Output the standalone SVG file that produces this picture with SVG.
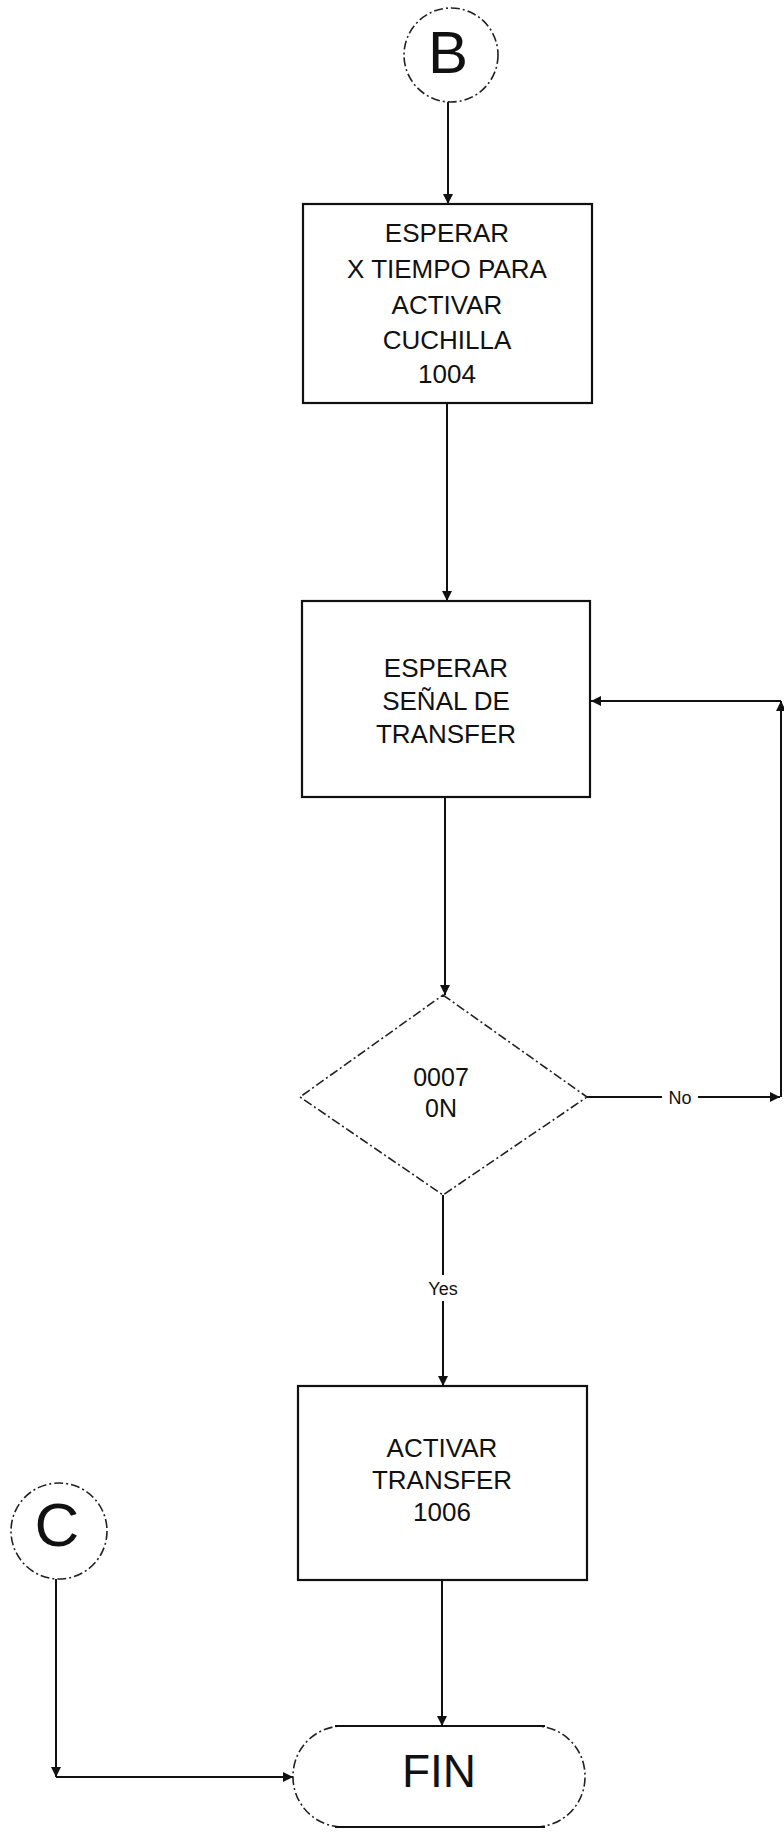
<svg xmlns="http://www.w3.org/2000/svg" width="784" height="1832" viewBox="0 0 784 1832">
<style>
.box{fill:#fff;stroke:#111;stroke-width:2.2}
.dash{fill:#fff;stroke:#222;stroke-width:1.6;stroke-dasharray:9 3 2 3}
.t{font-family:"Liberation Sans",Arial,sans-serif;fill:#111;text-anchor:middle}
.lbl{font-family:"Liberation Sans",Arial,sans-serif;fill:#111;text-anchor:middle;font-size:18px}
.ln{fill:none;stroke:#111;stroke-width:2}
</style>
<defs>
<marker id="ah" viewBox="0 0 10 10" refX="10" refY="5" markerWidth="10" markerHeight="10" markerUnits="userSpaceOnUse" orient="auto">
<path d="M0,0 L10,5 L0,10 z" fill="#111"/>
</marker>
</defs>
<g id="connectors">
<line class="ln" x1="448" y1="102" x2="448" y2="204" marker-end="url(#ah)"/>
<line class="ln" x1="447" y1="403" x2="447" y2="601" marker-end="url(#ah)"/>
<line class="ln" x1="445" y1="797" x2="445" y2="995" marker-end="url(#ah)"/>
<line class="ln" x1="443" y1="1195" x2="443" y2="1386" marker-end="url(#ah)"/>
<line class="ln" x1="442" y1="1580" x2="442" y2="1726" marker-end="url(#ah)"/>
<line class="ln" x1="587" y1="1097" x2="780" y2="1097" marker-end="url(#ah)"/>
<line class="ln" x1="781" y1="1097" x2="781" y2="701" marker-end="url(#ah)"/>
<line class="ln" x1="781" y1="701" x2="591" y2="701" marker-end="url(#ah)"/>
<line class="ln" x1="56" y1="1579" x2="56" y2="1777" marker-end="url(#ah)"/>
<line class="ln" x1="56" y1="1777" x2="293" y2="1777" marker-end="url(#ah)"/>
<rect x="662" y="1085" width="36" height="24" fill="#fff"/>
<text class="lbl" x="680" y="1104">No</text>
<rect x="422" y="1275" width="42" height="26" fill="#fff"/>
<text class="lbl" x="443" y="1295">Yes</text>
</g>
<g id="B">
<circle class="dash" cx="451" cy="55" r="47"/>
<text class="t" x="448" y="73" font-size="60">B</text>
</g>
<g id="box1">
<rect class="box" x="303" y="204" width="289" height="199"/>
<text class="t" font-size="26"><tspan x="447" y="242">ESPERAR</tspan><tspan x="447" y="278">X TIEMPO PARA</tspan><tspan x="447" y="314">ACTIVAR</tspan><tspan x="447" y="349">CUCHILLA</tspan><tspan x="447" y="383">1004</tspan></text>
</g>
<g id="box2">
<rect class="box" x="302" y="601" width="288" height="196"/>
<text class="t" font-size="26"><tspan x="446" y="677">ESPERAR</tspan><tspan x="446" y="710">SEÑAL DE</tspan><tspan x="446" y="743">TRANSFER</tspan></text>
</g>
<g id="decision">
<polygon class="dash" points="443,995 587,1097 443,1195 300,1097"/>
<text class="t" font-size="25"><tspan x="441" y="1086">0007</tspan><tspan x="441" y="1117">0N</tspan></text>
</g>
<g id="box3">
<rect class="box" x="298" y="1386" width="289" height="194"/>
<text class="t" font-size="26"><tspan x="442" y="1457">ACTIVAR</tspan><tspan x="442" y="1489">TRANSFER</tspan><tspan x="442" y="1521">1006</tspan></text>
</g>
<g id="C">
<circle class="dash" cx="59" cy="1531" r="48"/>
<text class="t" x="57" y="1546" font-size="62">C</text>
</g>
<g id="fin">
<rect class="dash" x="293" y="1726" width="292" height="101" rx="50" ry="50"/>
<line class="ln" x1="335" y1="1726" x2="545" y2="1726"/>
<line class="ln" x1="335" y1="1827" x2="545" y2="1827"/>
<text class="t" x="439" y="1787" font-size="46">FIN</text>
</g>
</svg>
